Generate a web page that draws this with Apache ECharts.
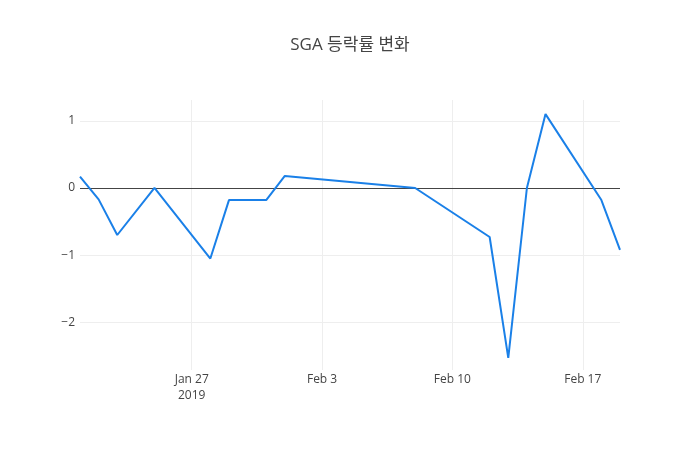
<!DOCTYPE html>
<html lang="ko">
<head>
<meta charset="UTF-8">
<title>SGA 등락률 변화</title>
<script src="https://cdn.jsdelivr.net/npm/echarts@6/dist/echarts.min.js"></script>
<style>
  html, body { margin: 0; padding: 0; background: #fff; }
  #chart { width: 700px; height: 450px; }
</style>
</head>
<body>
<div id="chart"></div>
<script>
// trading days and daily change (%)
const dates = ['2019-01-21', '2019-01-22', '2019-01-23', '2019-01-25', '2019-01-28',
  '2019-01-29', '2019-01-31', '2019-02-01', '2019-02-08', '2019-02-12',
  '2019-02-13', '2019-02-14', '2019-02-15', '2019-02-18', '2019-02-19'];
const changes = [0.17, -0.17, -0.70, 0, -1.05, -0.18, -0.18, 0.18, 0, -0.73, -2.53, 0, 1.10, -0.18, -0.92];

const xTicks = ['2019-01-27', '2019-02-03', '2019-02-10', '2019-02-17'];
const xTickLabels = ['Jan 27\n2019', 'Feb 3', 'Feb 10', 'Feb 17'];
const yTicks = [-2, -1, 0, 1];

const ts = d => new Date(d + 'T00:00:00Z').getTime();
const xTickTs = xTicks.map(ts);

const font = '"Open Sans", "Noto Sans CJK KR", sans-serif';
let chart = echarts.init(document.getElementById('chart'));

let option = {
  animation: false,
  backgroundColor: '#fff',
  title: {
    text: 'SGA 등락률 변화',
    left: 'center',
    top: 32,
    textStyle: { fontFamily: font, fontSize: 17, fontWeight: 'normal', color: '#444' }
  },
  grid: { left: 80, right: 80, top: 100, bottom: 80 },
  xAxis: {
    type: 'value',
    min: ts(dates[0]),
    max: ts(dates[dates.length - 1]),
    axisLine: { show: false },
    axisTick: { show: false, customValues: xTickTs },
    axisLabel: {
      customValues: xTickTs,
      margin: 2,
      lineHeight: 16,
      fontFamily: font,
      fontSize: 12,
      color: '#444',
      formatter: v => xTickLabels[xTickTs.indexOf(v)] || ''
    },
    splitLine: { show: true, lineStyle: { color: '#eee', width: 1 } }
  },
  yAxis: {
    type: 'value',
    min: -2.71,
    max: 1.31,
    axisLine: { show: false },
    axisTick: { show: false, customValues: yTicks },
    axisLabel: {
      customValues: yTicks,
      margin: 5,
      fontFamily: font,
      fontSize: 12,
      color: '#444',
      formatter: v => (v < 0 ? '\u2212' + Math.abs(v) : String(v))
    },
    splitLine: { show: true, lineStyle: { color: '#eee', width: 1 } }
  },
  series: [{
    type: 'line',
    data: dates.map((d, i) => [ts(d), changes[i]]),
    showSymbol: false,
    lineStyle: { color: '#1a80e8', width: 2 },
    itemStyle: { color: '#1a80e8' },
    z: 3,
    markLine: {
      silent: true,
      symbol: 'none',
      label: { show: false },
      lineStyle: { color: '#444', width: 1, type: 'solid' },
      data: [{ yAxis: 0 }],
      z: 2
    }
  }]
};

chart.setOption(option);
</script>
</body>
</html>
